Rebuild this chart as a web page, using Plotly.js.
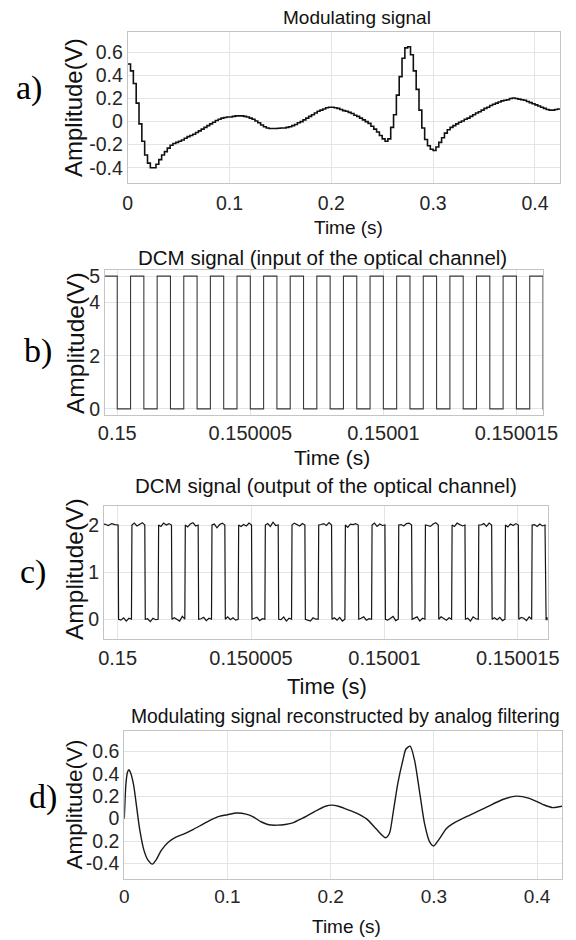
<!DOCTYPE html>
<html><head><meta charset="utf-8">
<script src="https://cdn.plot.ly/plotly-3.0.1.min.js"></script>
<style>html,body{margin:0;padding:0;background:#fff}#chart{width:576px;height:940px}</style>
</head><body><div id="chart"></div>
<script>
// ---------- DATA ----------
// a) modulating signal, sample-and-hold at 360 Hz
const modSampleRate = 360;
const modulatingValues = [
 0.50,0.44,0.33,0.16,-0.02,-0.17,-0.29,-0.36,-0.40,-0.40,
 -0.37,-0.33,-0.29,-0.26,-0.23,-0.205,-0.19,-0.18,-0.17,-0.16,
 -0.145,-0.13,-0.12,-0.11,-0.095,-0.08,-0.065,-0.05,-0.035,-0.02,
 -0.005,0.01,0.02,0.03,0.035,0.04,0.04,0.045,0.05,0.05,
 0.05,0.045,0.04,0.03,0.02,0.005,-0.01,-0.03,-0.045,-0.055,
 -0.06,-0.06,-0.06,-0.058,-0.055,-0.055,-0.05,-0.045,-0.035,-0.025,
 -0.01,0.0,0.015,0.03,0.045,0.06,0.075,0.09,0.1,0.11,
 0.12,0.125,0.125,0.12,0.115,0.105,0.095,0.09,0.08,0.07,
 0.055,0.045,0.03,0.015,0.0,-0.015,-0.04,-0.065,-0.09,-0.12,
 -0.15,-0.17,-0.15,-0.05,0.06,0.23,0.39,0.55,0.64,0.65,
 0.58,0.44,0.28,0.10,-0.055,-0.155,-0.21,-0.24,-0.25,-0.22,
 -0.18,-0.14,-0.1,-0.07,-0.05,-0.035,-0.02,-0.005,0.005,0.02,
 0.03,0.045,0.06,0.075,0.085,0.1,0.115,0.125,0.14,0.15,
 0.16,0.17,0.18,0.185,0.19,0.2,0.205,0.2,0.195,0.19,
 0.185,0.175,0.165,0.155,0.145,0.135,0.125,0.115,0.105,0.1,
 0.1,0.105,0.11,0.11
];

// b) DCM input: transition times (microseconds after 0.15 s) and levels (V)
const dcmBaseTime = 0.15;
const dcmInEdgesUs = [-0.6,0,0.5,1,1.5,2,2.5,3,3.5,4,4.5,5,5.5,6,6.5,7,7.5,8,8.5,9,9.5,10,10.5,11,11.5,12,12.5,13,13.5,14,14.5,15,15.5,16,16.2];
const dcmInLevels  = [5,0,5,0,5,0,5,0,5,0,5,0,5,0,5,0,5,0,5,0,5,0,5,0,5,0,5,0,5,0,5,0,5,0];

// c) DCM output: transition times (us), plateau levels (V), plateau noise (V, 4 per plateau)
const dcmOutEdgesUs = [-0.6,0.025,0.525,1.025,1.525,2.025,2.525,3.025,3.525,4.025,4.525,5.025,5.525,6.025,6.525,7.025,7.525,8.025,8.525,9.025,9.525,10.025,10.525,11.025,11.525,12.025,12.525,13.025,13.525,14.025,14.525,15.025,15.525,16.025,16.2];
const dcmOutLevels  = [2,0,2,0,2,0,2,0,2,0,2,0,2,0,2,0,2,0,2,0,2,0,2,0,2,0,2,0,2,0,2,0,2,0];
const dcmOutNoise = [
 0.02,-0.01,0.03,0.01,  -0.02,0.03,-0.04,0.02,  0.04,-0.02,0.01,0.05,  0.01,-0.05,0.02,-0.01,
 -0.03,0.04,0.00,0.03,  0.03,0.00,-0.04,0.06,  -0.04,0.02,0.05,-0.02,  0.01,0.04,-0.03,0.02,
 0.02,-0.06,0.01,0.04,  0.05,-0.01,0.03,-0.02,  -0.03,0.01,-0.02,0.04,  0.02,0.04,-0.03,0.01,
 0.03,-0.03,0.06,-0.01,  -0.01,0.05,-0.04,0.02,  0.04,0.01,-0.02,0.03,  -0.02,-0.04,0.03,0.00,
 0.01,0.03,-0.01,0.05,  0.03,-0.02,0.04,-0.04,  -0.05,0.02,0.01,0.03,  0.02,0.05,-0.02,0.01,
 0.04,-0.03,0.02,-0.01,  -0.02,0.03,0.06,-0.03,  0.01,-0.02,0.03,0.04,  0.03,0.05,-0.04,0.02,
 -0.01,-0.03,0.02,0.05,  0.05,0.01,-0.02,0.03,  -0.03,0.04,0.01,-0.02,  0.02,-0.04,0.05,0.01,
 0.00,0.03,-0.03,0.04,  0.03,-0.01,0.04,-0.03,  -0.04,0.02,-0.01,0.03,  0.04,0.02,-0.03,0.05,
 0.01,-0.03,0.02,-0.02,  -0.02,0.04,-0.01,0.01
];

// d) reconstructed signal
const reconTime = [0,0.0015,0.003,0.0045,0.006,0.009,0.012,0.015,0.019,0.023,0.0272,0.031,0.036,0.0426,0.05,0.058,0.067,0.075,0.083,0.092,0.1,0.109,0.118,0.125,0.133,0.14,0.148,0.156,0.164,0.172,0.18,0.188,0.195,0.201,0.2075,0.215,0.225,0.2345,0.244,0.249,0.2532,0.257,0.2605,0.265,0.27,0.273,0.277,0.2813,0.286,0.291,0.2958,0.2997,0.3055,0.312,0.3184,0.3345,0.3506,0.3668,0.3797,0.3926,0.4055,0.4152,0.4242];
const reconValues = [0.0,0.30,0.41,0.435,0.41,0.30,0.10,-0.10,-0.28,-0.37,-0.405,-0.365,-0.28,-0.21,-0.165,-0.135,-0.095,-0.055,-0.015,0.02,0.035,0.05,0.04,0.015,-0.03,-0.055,-0.058,-0.052,-0.035,0.0,0.04,0.08,0.11,0.12,0.11,0.085,0.05,0.0,-0.09,-0.14,-0.17,-0.13,0.05,0.31,0.52,0.62,0.645,0.52,0.25,-0.045,-0.205,-0.243,-0.178,-0.09,-0.045,0.03,0.1,0.17,0.2,0.18,0.127,0.098,0.11];

// tick labels
const secTicks = [0,0.1,0.2,0.3,0.4];
const secTickText = ['0','0.1','0.2','0.3','0.4'];
const dcmTicks = [0.15,0.150005,0.15001,0.150015];
const dcmTickText = ['0.15','0.150005','0.15001','0.150015'];
const ampTicks = [-0.4,-0.2,0,0.2,0.4,0.6];
const ampTickTextA = ['-0.4','-0.2','0','0.2','0.4','0.6'];
const ampTickTextD = ['-0.4','0.2','0','0.2','0.4','0.6'];
const dcmInYTicks = [0,2,4,5];
const dcmOutYTicks = [0,1,2];

const panelTitles = ['Modulating signal','DCM signal (input of the optical channel)','DCM signal (output of the optical channel)','Modulating signal reconstructed by analog filtering'];
const panelLetters = ['a)','b)','c)','d)'];
const xTitle = 'Time (s)';
const yTitle = 'Amplitude(V)';

// ---------- BUILD ----------
const W = 576, H = 940;
const FONT = 'Liberation Sans, Arial, Helvetica, sans-serif';
const us = v => dcmBaseTime + v * 1e-6;

const modTime = modulatingValues.map((_, i) => i / modSampleRate);

const bx = dcmInEdgesUs.map(us);
const by = dcmInLevels.concat([dcmInLevels[dcmInLevels.length - 1]]);

const cx = [], cy = [];
dcmOutLevels.forEach((lvl, j) => {
  const s = dcmOutEdgesUs[j], e = dcmOutEdgesUs[j + 1], w = e - s;
  cx.push(us(s + 0.012)); cy.push(lvl);
  [0.2, 0.4, 0.6, 0.8].forEach((f, k) => { cx.push(us(s + w * f)); cy.push(lvl + dcmOutNoise[j * 4 + k]); });
  cx.push(us(e - 0.006)); cy.push(lvl);
});

const traces = [
  {x: modTime, y: modulatingValues, type: 'scatter', mode: 'lines', line: {shape: 'hv', color: '#111', width: 1.6}, xaxis: 'x', yaxis: 'y', hoverinfo: 'skip'},
  {x: bx, y: by, type: 'scatter', mode: 'lines', line: {shape: 'hv', color: '#3a3a3a', width: 1.1}, xaxis: 'x2', yaxis: 'y2', hoverinfo: 'skip'},
  {x: cx, y: cy, type: 'scatter', mode: 'lines', line: {color: '#151515', width: 1.2}, xaxis: 'x3', yaxis: 'y3', hoverinfo: 'skip'},
  {x: reconTime, y: reconValues, type: 'scatter', mode: 'lines', line: {shape: 'spline', smoothing: 0.7, color: '#1a1a1a', width: 1.4}, xaxis: 'x4', yaxis: 'y4', hoverinfo: 'skip'}
];

// plot boxes in pixels: [left, right, top, bottom]
const boxes = [[127.7, 560, 31.7, 182.7], [105, 543.3, 270, 415], [104, 547.7, 505.7, 639], [124.3, 562, 731, 879.3]];

const axBase = {showline: true, mirror: true, linecolor: '#c4c4c4', linewidth: 1, showgrid: true, gridcolor: '#e4e4e4', gridwidth: 1,
  zeroline: false, ticks: '', tickfont: {family: FONT, size: 20, color: '#262626'}, fixedrange: true};

const layout = {width: W, height: H, margin: {l: 0, r: 0, t: 0, b: 0}, paper_bgcolor: '#fff', plot_bgcolor: '#fff', showlegend: false, annotations: []};

const xRanges = [[0, 0.4246], [us(-0.46), us(16.01)], [us(-0.51), us(16.12)], [0, 0.4242]];
const yRanges = [[-0.53, 0.78], [-0.23, 5.23], [-0.42, 2.41], [-0.54, 0.78]];
const xTickV = [secTicks, dcmTicks, dcmTicks, secTicks];
const xTickT = [secTickText, dcmTickText, dcmTickText, secTickText];
const yTickV = [ampTicks, dcmInYTicks, dcmOutYTicks, ampTicks];
const yTickT = [ampTickTextA, dcmInYTicks.map(String), dcmOutYTicks.map(String), ampTickTextD];
const xFont = [19.5, 20, 20, 19];
const yFont = [19.5, 19.5, 19.5, 19.5];
const xStandoff = [3, 0, 1, 0];

boxes.forEach((b, i) => {
  const n = i === 0 ? '' : String(i + 1);
  layout['xaxis' + n] = Object.assign({}, axBase, {domain: [b[0] / W, b[1] / W], range: xRanges[i], anchor: 'y' + n,
    tickmode: 'array', tickvals: xTickV[i], ticktext: xTickT[i], ticklabelstandoff: xStandoff[i],
    tickfont: Object.assign({}, axBase.tickfont, {size: xFont[i]})});
  layout['yaxis' + n] = Object.assign({}, axBase, {domain: [1 - b[3] / H, 1 - b[2] / H], range: yRanges[i], anchor: 'x' + n,
    tickmode: 'array', tickvals: yTickV[i], ticktext: yTickT[i], tickfont: Object.assign({}, axBase.tickfont, {size: yFont[i]})});
});

function addText(text, px, py, size, opts) {
  layout.annotations.push(Object.assign({text: text, xref: 'paper', yref: 'paper', x: px / W, y: 1 - py / H,
    xanchor: 'center', yanchor: 'middle', showarrow: false, font: {family: FONT, size: size, color: '#111'}}, opts || {}));
}
const titlePos = [[357, 18, 19], [322.5, 257, 20.5], [326, 485, 20.5], [345, 716.7, 19.3]];
const xTitlePos = [[348, 227, 19], [332, 457, 21], [327, 686, 22], [346, 926.7, 19]];
const yTitlePos = [[73, 108, 24], [75, 343, 24.5], [74, 569, 24.5], [73.5, 805, 22.5]];
const letterPos = [[29, 88], [38, 351], [33, 572], [43, 797]];
for (let i = 0; i < 4; i++) {
  addText(panelTitles[i], titlePos[i][0], titlePos[i][1], titlePos[i][2]);
  addText(xTitle, xTitlePos[i][0], xTitlePos[i][1], xTitlePos[i][2]);
  addText(yTitle, yTitlePos[i][0], yTitlePos[i][1], yTitlePos[i][2], {textangle: -90});
  addText(panelLetters[i], letterPos[i][0], letterPos[i][1], 34, {font: {family: 'Liberation Serif, Times New Roman, serif', size: 34, color: '#000'}});
}

Plotly.newPlot('chart', traces, layout, {staticPlot: true, displayModeBar: false});
</script>
</body></html>
